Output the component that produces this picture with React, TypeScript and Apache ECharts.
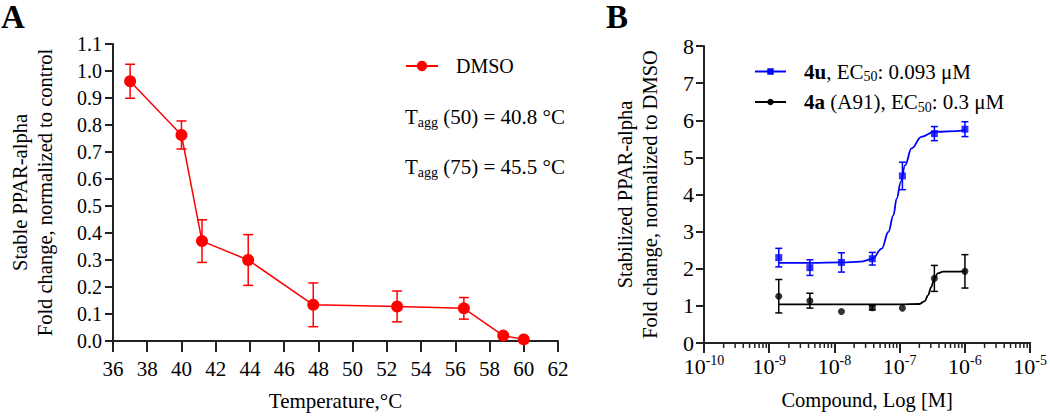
import React, { useEffect, useRef } from "react";
import * as echarts from "echarts";

const FONT = "'Liberation Serif', 'Times New Roman', serif";
const RED = "#ff0000";
const BLUE = "#0000ff";
const BLACK = "#000000";
const AXIS = "#222222";

// Panel A: thermal stability (DMSO)
const TEMPS = [37.0, 40.0, 41.2, 43.9, 47.7, 52.6, 56.5, 58.8, 60.0];
const DMSO_MEAN = [0.962, 0.763, 0.37, 0.3, 0.134, 0.128, 0.121, 0.02, 0.006];
const DMSO_SD = [0.063, 0.052, 0.079, 0.094, 0.081, 0.057, 0.04, 0, 0];
const TAGG_LINES = ["(50) = 40.8 °C", "(75) = 45.5 °C"];

// Panel B: dose response
const CONC = [1.4e-9, 4.2e-9, 1.28e-8, 3.8e-8, 1.1e-7, 3.4e-7, 1e-6];
const U_MEAN = [2.3, 2.03, 2.17, 2.27, 4.5, 5.64, 5.76];
const U_SD = [0.25, 0.21, 0.26, 0.17, 0.37, 0.19, 0.2];
const A_MEAN = [1.26, 1.14, 0.85, 0.95, 0.94, 1.74, 1.93];
const A_SD = [0.45, 0.2, 0, 0.06, 0, 0.35, 0.45];

// fitted curves
const U_FIT_X = [1.4e-9, 4.2e-9, 1.3e-8, 2.5e-8, 3.8e-8, 5.3e-8, 6.7e-8, 8.0e-8, 9.0e-8, 1.04e-7, 1.21e-7, 1.52e-7, 2.15e-7, 3.4e-7, 1e-6];
const U_FIT_Y = [2.16, 2.16, 2.17, 2.19, 2.26, 2.54, 2.99, 3.44, 3.89, 4.34, 4.79, 5.24, 5.55, 5.69, 5.73];
const A_FIT_X = [1.4e-9, 1e-8, 1e-7, 2.0e-7, 2.43e-7, 2.72e-7, 3.05e-7, 3.36e-7, 3.86e-7, 4.6e-7, 1e-6];
const A_FIT_Y = [1.04, 1.04, 1.04, 1.05, 1.13, 1.29, 1.51, 1.72, 1.88, 1.92, 1.93];

const U_LEGEND = "{b|4u}{n|, EC}{s|50}{n|: 0.093 μM}";
const A_LEGEND = "{b|4a}{n| (A91), EC}{s|50}{n|: 0.3 μM}";

const LOG_MINOR: number[] = [];
for (let d = -10; d < -5; d++) {
  for (let m = 2; m <= 9; m++) LOG_MINOR.push(m * Math.pow(10, d));
}

const errRenderer = (color: string, half: number, width: number) => (params: any, api: any) => {
  const x = api.value(0);
  const lo = api.value(1);
  const hi = api.value(2);
  if (!(hi - lo > 0)) return { type: "group", children: [] };
  const t = api.coord([x, hi]);
  const b = api.coord([x, lo]);
  const style = { stroke: color, lineWidth: width };
  return {
    type: "group",
    children: [
      { type: "line", shape: { x1: t[0], y1: t[1], x2: b[0], y2: b[1] }, style },
      { type: "line", shape: { x1: t[0] - half, y1: t[1], x2: t[0] + half, y2: t[1] }, style },
      { type: "line", shape: { x1: b[0] - half, y1: b[1], x2: b[0] + half, y2: b[1] }, style },
    ],
  };
};

export default function App() {
  const ref = useRef<HTMLDivElement>(null);
  useEffect(() => {
    const chart = echarts.init(ref.current!, null, { renderer: "svg" });
    const txt = { fontFamily: FONT, color: "#000" };
    const option: any = {
      animation: false,
      backgroundColor: "#fff",
      textStyle: { fontFamily: FONT },
      title: [
        { text: "A", left: 1, top: 0, padding: 0, textStyle: { ...txt, fontSize: 33, fontWeight: "bold" } },
        { text: "B", left: 606, top: 0, padding: 0, textStyle: { ...txt, fontSize: 33, fontWeight: "bold" } },
      ],
      grid: [
        { left: 113, right: 492, top: 44, bottom: 74 },
        { left: 704, right: 17, top: 46, bottom: 73 },
      ],
      legend: [
        {
          data: ["DMSO"],
          left: 405,
          top: 56,
          padding: 0,
          itemWidth: 32,
          itemHeight: 13,
          formatter: "{t|DMSO}",
          textStyle: { ...txt, fontSize: 20, rich: { t: { ...txt, fontSize: 20, padding: [0, 0, 0, 13] } } },
        },
        {
          data: ["4u", "4a"],
          orient: "vertical",
          left: 754,
          top: 61,
          padding: 0,
          itemWidth: 31,
          itemHeight: 8,
          itemGap: 8,
          formatter: (name: string) => (name === "4u" ? U_LEGEND : A_LEGEND),
          textStyle: {
            ...txt,
            fontSize: 21,
            rich: {
              b: { ...txt, fontSize: 21, fontWeight: "bold", padding: [0, 0, 0, 13] },
              n: { ...txt, fontSize: 21 },
              s: { ...txt, fontSize: 14, padding: [10, 0, 0, 0] },
            },
          },
        },
      ],
      graphic: TAGG_LINES.map((line, i) => ({
        type: "text",
        x: 405,
        y: 117 + i * 50,
        style: {
          text: `{n|T}{s|agg}{n| ${line}}`,
          verticalAlign: "middle",
          rich: {
            n: { ...txt, fontSize: 21 },
            s: { ...txt, fontSize: 14, padding: [11, 0, 0, 0] },
          },
        },
      })),
      xAxis: [
        {
          type: "value",
          gridIndex: 0,
          min: 36,
          max: 62,
          interval: 2,
          axisLine: { lineStyle: { color: AXIS, width: 2 } },
          axisTick: { length: 11, lineStyle: { color: AXIS, width: 2 } },
          axisLabel: { ...txt, fontSize: 21, margin: 17 },
          splitLine: { show: false },
          name: "Temperature,°C",
          nameLocation: "middle",
          nameGap: 49,
          nameMoveOverlap: false,
          nameTextStyle: { ...txt, fontSize: 21 },
        },
        {
          type: "log",
          logBase: 10,
          gridIndex: 1,
          min: 1e-10,
          max: 1e-5,
          axisLine: { lineStyle: { color: AXIS, width: 2 } },
          axisTick: { length: 10, lineStyle: { color: AXIS, width: 2 } },
          axisLabel: {
            margin: 10,
            formatter: (v: number) => `{b|10}{s|${Math.round(Math.log10(v))}}`,
            rich: {
              b: { ...txt, fontSize: 22 },
              s: { ...txt, fontSize: 14, padding: [0, 0, 12, 0] },
            },
          },
          splitLine: { show: false },
          minorTick: { show: false },
          name: "Compound, Log [M]",
          nameLocation: "middle",
          nameGap: 46,
          nameMoveOverlap: false,
          nameTextStyle: { ...txt, fontSize: 20.5 },
        },
      ],
      yAxis: [
        {
          type: "value",
          gridIndex: 0,
          min: 0,
          max: 1.1,
          interval: 0.1,
          axisLine: { show: true, lineStyle: { color: AXIS, width: 2 } },
          axisTick: { show: true, length: 8, lineStyle: { color: AXIS, width: 2 } },
          axisLabel: { ...txt, fontSize: 20, margin: 11, formatter: (v: number) => v.toFixed(1) },
          splitLine: { show: false },
          name: "Stable PPAR-alpha\nFold change, normalized to control",
          nameLocation: "middle",
          nameGap: 56,
          nameMoveOverlap: false,
          nameTextStyle: { ...txt, fontSize: 20.5, lineHeight: 25 },
        },
        {
          type: "value",
          gridIndex: 1,
          min: 0,
          max: 8,
          interval: 1,
          axisLine: { show: true, lineStyle: { color: AXIS, width: 2 } },
          axisTick: { show: true, length: 8, lineStyle: { color: AXIS, width: 2 } },
          axisLabel: { ...txt, fontSize: 22, margin: 10 },
          splitLine: { show: false },
          name: "Stabilized PPAR-alpha\nFold change, normalized to DMSO",
          nameLocation: "middle",
          nameGap: 42,
          nameMoveOverlap: false,
          nameTextStyle: { ...txt, fontSize: 20.5, lineHeight: 25 },
        },
      ],
      series: [
        {
          type: "custom",
          name: "dmso-err",
          xAxisIndex: 0,
          yAxisIndex: 0,
          renderItem: errRenderer(RED, 5, 1.5),
          data: TEMPS.map((t, i) => [t, DMSO_MEAN[i] - DMSO_SD[i], DMSO_MEAN[i] + DMSO_SD[i]]),
          encode: { x: 0, y: [1, 2] },
          z: 2,
          silent: true,
        },
        {
          type: "line",
          name: "DMSO",
          xAxisIndex: 0,
          yAxisIndex: 0,
          data: TEMPS.map((t, i) => [t, DMSO_MEAN[i]]),
          symbol: "circle",
          symbolSize: 12,
          color: RED,
          itemStyle: { color: RED },
          lineStyle: { color: RED, width: 1.5 },
          z: 3,
        },
        {
          type: "custom",
          name: "minor-ticks",
          xAxisIndex: 1,
          yAxisIndex: 1,
          silent: true,
          data: LOG_MINOR.map((v) => [v, 0]),
          renderItem: (params: any, api: any) => {
            const p = api.coord([api.value(0), 0]);
            return {
              type: "line",
              shape: { x1: p[0], y1: p[1], x2: p[0], y2: p[1] + 5 },
              style: { stroke: AXIS, lineWidth: 1.5 },
            };
          },
        },
        {
          type: "custom",
          name: "u-err",
          xAxisIndex: 1,
          yAxisIndex: 1,
          renderItem: errRenderer(BLUE, 3.5, 1.5),
          data: CONC.map((c, i) => [c, U_MEAN[i] - U_SD[i], U_MEAN[i] + U_SD[i]]),
          encode: { x: 0, y: [1, 2] },
          z: 2,
          silent: true,
        },
        {
          type: "custom",
          name: "a-err",
          xAxisIndex: 1,
          yAxisIndex: 1,
          renderItem: errRenderer(BLACK, 3.5, 1.5),
          data: CONC.map((c, i) => [c, A_MEAN[i] - A_SD[i], A_MEAN[i] + A_SD[i]]),
          encode: { x: 0, y: [1, 2] },
          z: 2,
          silent: true,
        },
        {
          type: "line",
          name: "4u",
          xAxisIndex: 1,
          yAxisIndex: 1,
          data: U_FIT_X.map((x, i) => [x, U_FIT_Y[i]]),
          smooth: 0.4,
          smoothMonotone: "x",
          showSymbol: false,
          symbol: "rect",
          color: BLUE,
          itemStyle: { color: BLUE },
          lineStyle: { color: BLUE, width: 1.8 },
          z: 3,
        },
        {
          type: "line",
          name: "4a",
          xAxisIndex: 1,
          yAxisIndex: 1,
          data: A_FIT_X.map((x, i) => [x, A_FIT_Y[i]]),
          smooth: 0.4,
          smoothMonotone: "x",
          showSymbol: false,
          symbol: "circle",
          color: BLACK,
          itemStyle: { color: BLACK },
          lineStyle: { color: BLACK, width: 1.8 },
          z: 3,
        },
        {
          type: "scatter",
          name: "4u points",
          xAxisIndex: 1,
          yAxisIndex: 1,
          data: CONC.map((c, i) => [c, U_MEAN[i]]),
          symbol: "rect",
          symbolSize: 7,
          itemStyle: { color: BLUE },
          z: 4,
        },
        {
          type: "scatter",
          name: "4a points",
          xAxisIndex: 1,
          yAxisIndex: 1,
          data: CONC.map((c, i) => [c, A_MEAN[i]]),
          symbol: "circle",
          symbolSize: 7,
          itemStyle: { color: BLACK },
          z: 4,
        },
      ],
    };
    chart.setOption(option);
    return () => chart.dispose();
  }, []);
  return (
    <div
      ref={ref}
      style={{ position: "fixed", left: 0, top: 0, width: 1050, height: 416, background: "#fff" }}
    />
  );
}
